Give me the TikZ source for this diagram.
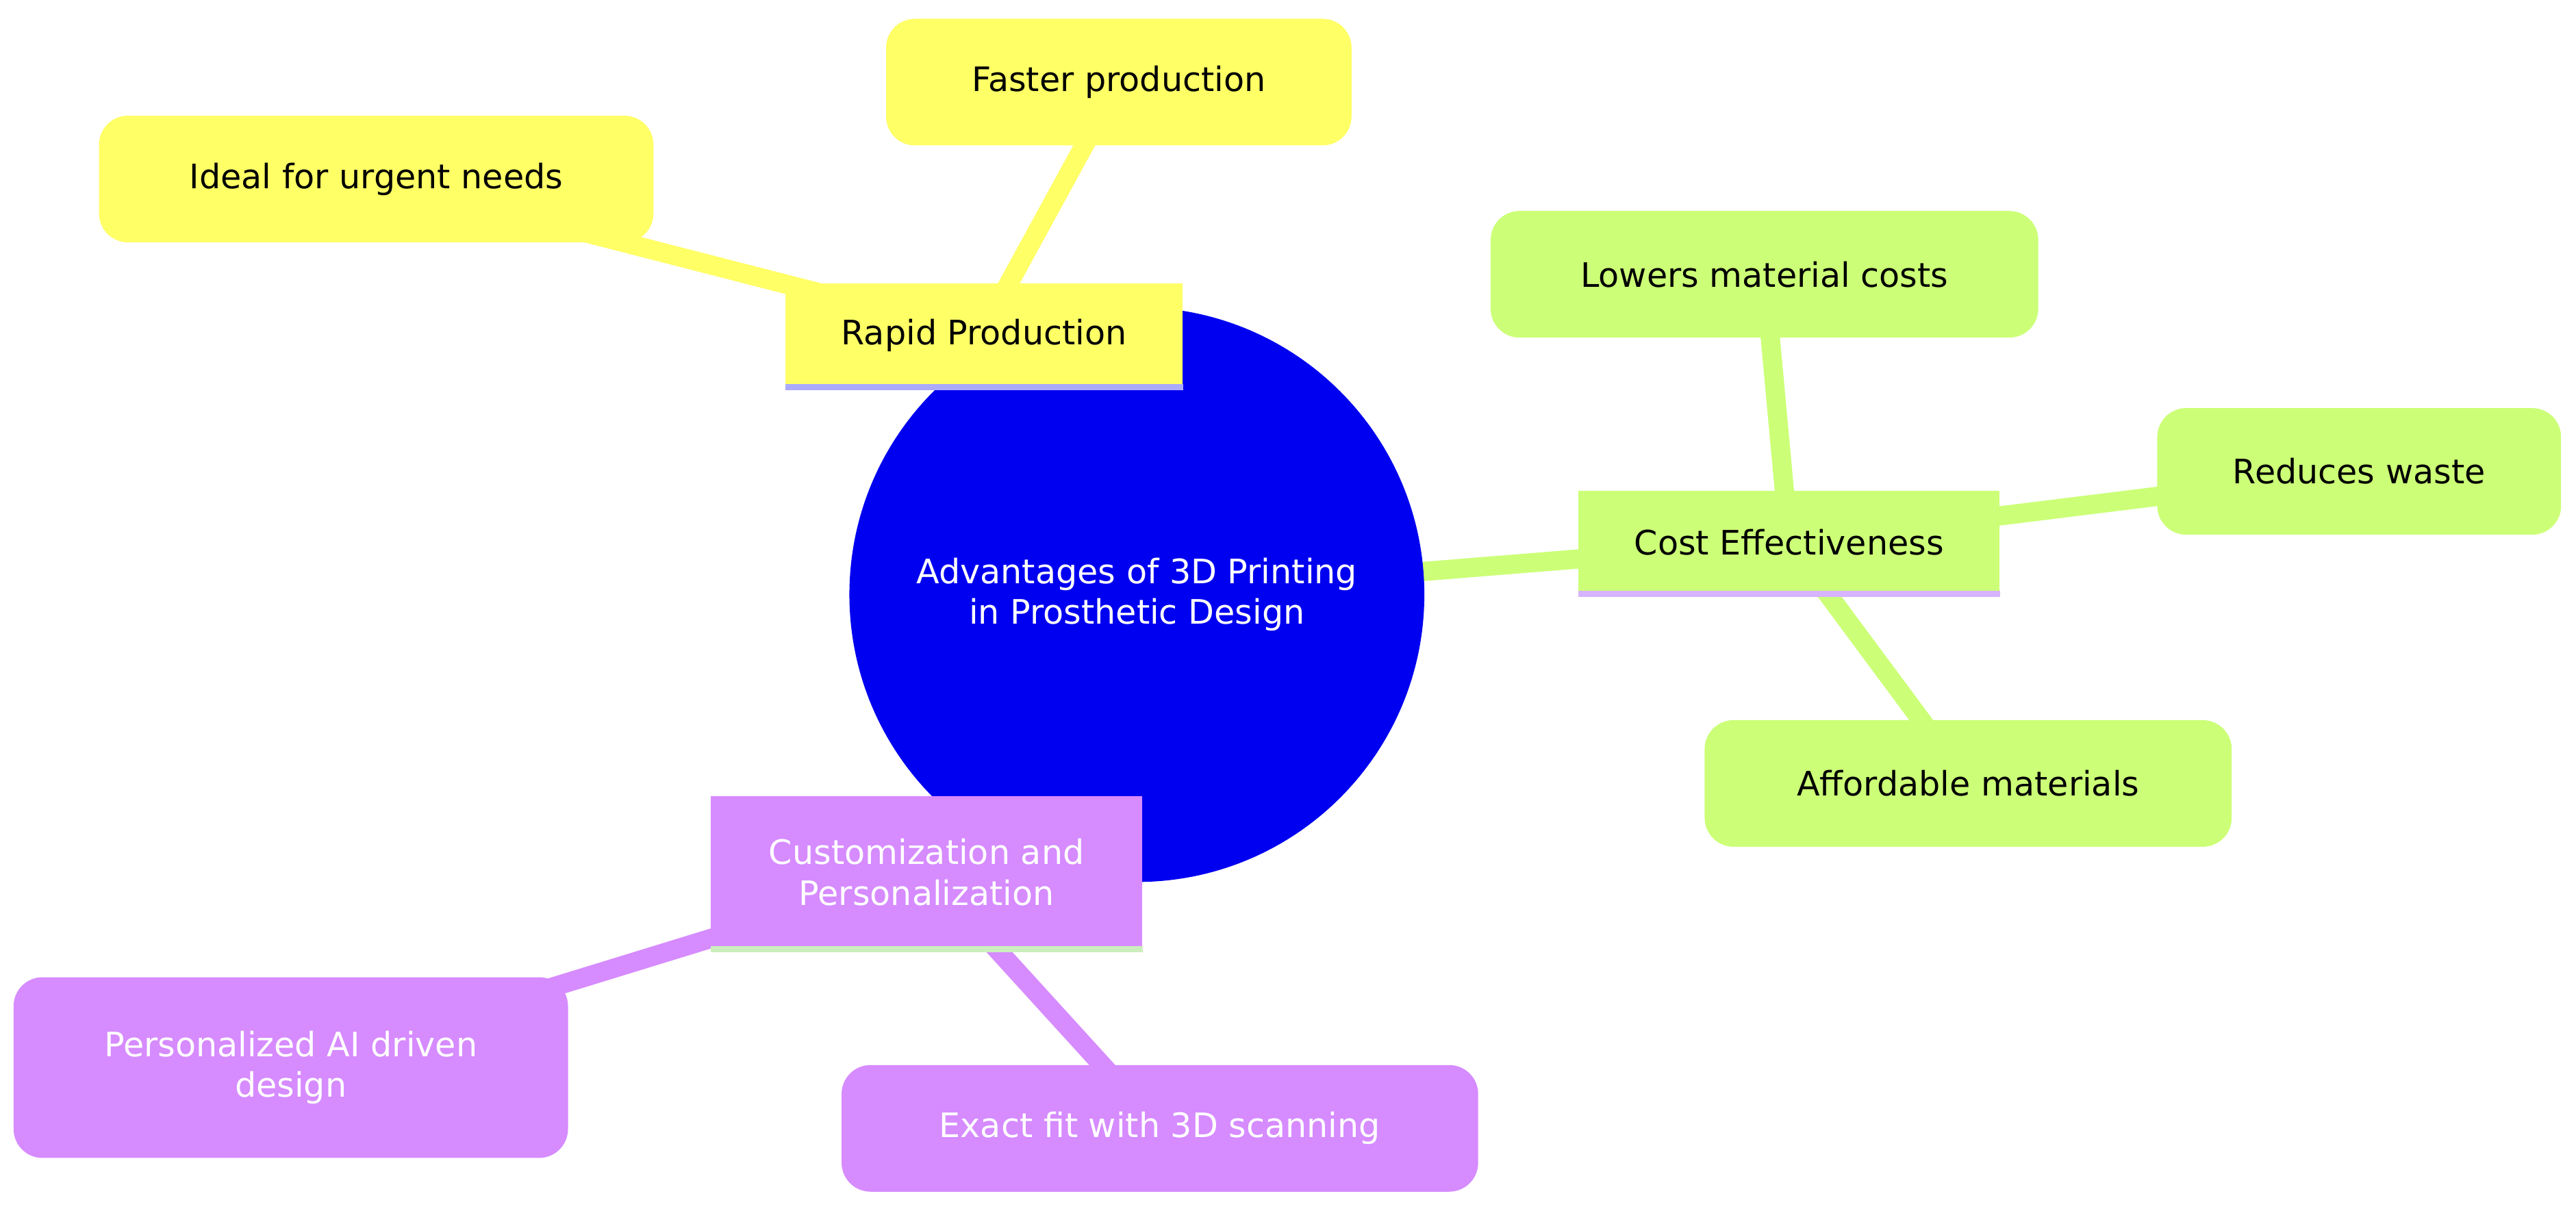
\documentclass[tikz,border=0pt]{standalone}
\usepackage{fontspec}
\setmainfont{DejaVu Sans}
\usetikzlibrary{backgrounds}
\definecolor{cblue}{RGB}{0,0,240}
\definecolor{cyel}{RGB}{255,255,102}
\definecolor{cgrn}{RGB}{204,255,119}
\definecolor{cpur}{RGB}{214,139,255}
\definecolor{clav}{RGB}{170,170,255}
\definecolor{clgr}{RGB}{204,238,190}
\definecolor{clav2}{RGB}{215,180,255}
\begin{document}
\begin{tikzpicture}[x=0.024cm,y=-0.024cm,
  every node/.style={font=\fontsize{14}{17}\selectfont, align=center, inner sep=0pt},
  leaf/.style={rounded corners=12pt, minimum height=1.85cm},
  sec/.style={minimum height=1.5cm},
  ey/.style={cyel, line width=8pt},
  eg/.style={cgrn, line width=8pt},
  ep/.style={cpur, line width=8pt}]
\useasboundingbox (0,0) rectangle (1568,737);
\node[circle, fill=cblue, minimum size=8.4cm, text=white] (root) at (692,362) {Advantages of 3D Printing\\in Prosthetic Design};
\node[sec, fill=cyel, minimum width=5.8cm] (rapid) at (599,204) {Rapid Production};
\node[leaf, fill=cyel, minimum width=6.8cm] (faster) at (681,50) {Faster production};
\node[leaf, fill=cyel, minimum width=8.1cm] (ideal) at (229,109) {Ideal for urgent needs};
\node[sec, fill=cgrn, minimum width=6.15cm] (cost) at (1089,330) {Cost Effectiveness};
\node[leaf, fill=cgrn, minimum width=8.0cm] (lowers) at (1074,167) {Lowers material costs};
\node[leaf, fill=cgrn, minimum width=5.9cm] (reduces) at (1436,287) {Reduces waste};
\node[leaf, fill=cgrn, minimum width=7.7cm] (afford) at (1198,477) {Affordable materials};
\node[sec, fill=cpur, minimum width=6.3cm, minimum height=2.23cm, text=white] (cust) at (564,531) {Customization and\\Personalization};
\node[leaf, fill=cpur, minimum width=8.1cm, minimum height=2.64cm, text=white] (pers) at (177,650) {Personalized AI driven\\design};
\node[leaf, fill=cpur, minimum width=9.3cm, text=white] (exact) at (706,687) {Exact fit with 3D scanning};
\draw[clav, line width=2.5pt] (rapid.south west) -- (rapid.south east);
\draw[clav2, line width=2.5pt] (cost.south west) -- (cost.south east);
\draw[clgr, line width=2.5pt] (cust.south west) -- (cust.south east);
\begin{scope}[on background layer]
\coordinate (r1) at (610,180);
\draw[ey] (r1) -- (faster.center);
\draw[ey] (rapid.center) -- (ideal.center);
\draw[eg] (root.center) -- (cost.center);
\draw[eg] (cost.center) -- (lowers.center);
\draw[eg] (cost.center) -- (reduces.center);
\draw[eg] (cost.center) -- (afford.center);
\draw[ep] (cust.center) -- (pers.center);
\draw[ep] (cust.center) -- (exact.center);
\end{scope}
\end{tikzpicture}
\end{document}
